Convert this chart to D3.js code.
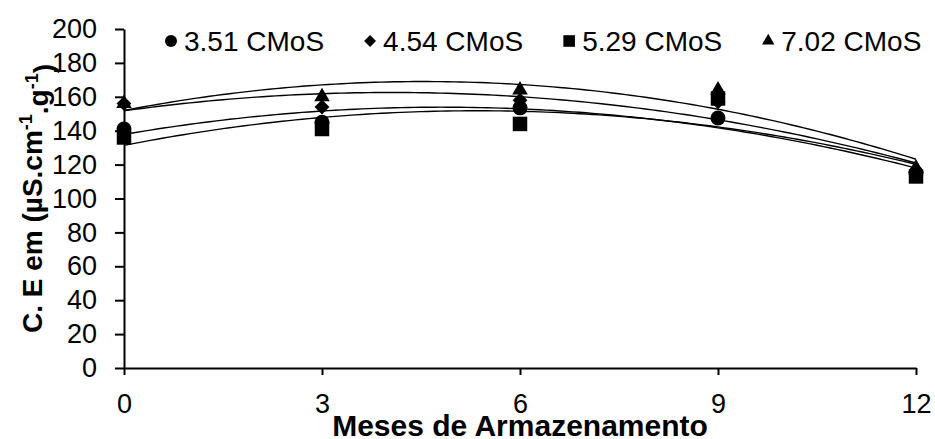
<!DOCTYPE html>
<html>
<head>
<meta charset="utf-8">
<script src="https://cdnjs.cloudflare.com/ajax/libs/d3/7.8.5/d3.min.js"></script>
<style>
    body { margin: 0; background: #fff; }
    text { font-family: Arial, "Liberation Sans", sans-serif; fill: #000; }
</style>
</head>
<body>
<script>
// months of storage
var months = [0, 3, 6, 9, 12];
var seriesNames = ['3.51 CMoS', '4.54 CMoS', '5.29 CMoS', '7.02 CMoS'];
var seriesShapes = ['circle', 'diamond', 'square', 'triangle'];
// electrical conductivity
var ce351 = [141, 145, 153.5, 147.5, 115];
var ce454 = [156, 154, 158, 157, 116];
var ce529 = [136, 141, 144, 159, 113];
var ce702 = [156, 160, 164, 164, 118];
var yTicks = [0, 20, 40, 60, 80, 100, 120, 140, 160, 180, 200];
var xTicks = [0, 3, 6, 9, 12];

var allSeries = [ce351, ce454, ce529, ce702];

var svg = d3.select('body').append('svg')
    .attr('width', 935)
    .attr('height', 439);

var margin = { top: 29, right: 19, bottom: 71, left: 124 },
    width = +svg.attr('width') - margin.left - margin.right,
    height = +svg.attr('height') - margin.top - margin.bottom,
    g = svg.append('g').attr('transform', 'translate(' + margin.left + ',' + margin.top + ')');

var x = d3.scaleLinear().domain([0, 12]).range([0, width]);
var y = d3.scaleLinear().domain([0, 200]).range([height, 0]);

// polynomial (order 2) trendline, least squares like the spreadsheet does
function quadFit(xs, ys) {
    var s = [0, 0, 0, 0, 0], t = [0, 0, 0];
    xs.forEach(function (xv, i) {
        for (var k = 0; k < 5; k++) s[k] += Math.pow(xv, k);
        for (var k2 = 0; k2 < 3; k2++) t[k2] += ys[i] * Math.pow(xv, k2);
    });
    var A = [[s[0], s[1], s[2], t[0]], [s[1], s[2], s[3], t[1]], [s[2], s[3], s[4], t[2]]];
    for (var c = 0; c < 3; c++) {
        for (var r = c + 1; r < 3; r++) {
            var f = A[r][c] / A[c][c];
            for (var j = c; j < 4; j++) A[r][j] -= f * A[c][j];
        }
    }
    var b = [0, 0, 0];
    for (var r2 = 2; r2 >= 0; r2--) {
        var v = A[r2][3];
        for (var j2 = r2 + 1; j2 < 3; j2++) v -= A[r2][j2] * b[j2];
        b[r2] = v / A[r2][r2];
    }
    return function (xv) { return b[0] + b[1] * xv + b[2] * xv * xv; };
}

function symbolPath(shape, big) {
    var k = big ? 1 : 0.8;
    if (shape === 'circle') return d3.symbol(d3.symbolCircle, 177 * k * k)();
    if (shape === 'square') return d3.symbol(d3.symbolSquare, 210 * k * k)();
    if (shape === 'triangle') return d3.symbol(d3.symbolTriangle, 105 * k * k)();
    return d3.symbol(d3.symbolSquare, 110 * k * k)();
}

// axes
g.append('g')
    .attr('class', 'axis')
    .call(d3.axisLeft(y).tickValues(yTicks).tickSizeInner(9).tickSizeOuter(0).tickPadding(18));

g.append('g')
    .attr('class', 'axis')
    .attr('transform', 'translate(0,' + height + ')')
    .call(d3.axisBottom(x).tickValues(xTicks).tickSizeInner(7).tickSizeOuter(0).tickPadding(19));

g.selectAll('.axis path, .axis line')
    .attr('stroke', '#000')
    .attr('stroke-width', 2);
g.selectAll('.axis text')
    .style('font-size', '27px')
    .attr('fill', '#000');

// trendlines
var line = d3.line()
    .x(function (d) { return x(d[0]); })
    .y(function (d) { return y(d[1]); });

var xs = d3.range(0, 12.001, 0.1);
allSeries.forEach(function (s) {
    var fit = quadFit(months, s);
    g.append('path')
        .attr('fill', 'none')
        .attr('stroke', '#000')
        .attr('stroke-width', 1.4)
        .attr('d', line(xs.map(function (v) { return [v, fit(v)]; })));
});

// markers
allSeries.forEach(function (s, i) {
    g.append('g').selectAll('path')
        .data(s)
        .enter().append('path')
        .attr('transform', function (d, j) {
            return 'translate(' + x(months[j]) + ',' + y(d) + ')' +
                (seriesShapes[i] === 'diamond' ? ' rotate(45)' : '');
        })
        .attr('d', symbolPath(seriesShapes[i], true))
        .attr('fill', '#000');
});

// legend
var legend = svg.append('g').attr('transform', 'translate(0,41)');
var lx = 171;
seriesNames.forEach(function (name, i) {
    var item = legend.append('g').attr('transform', 'translate(' + lx + ',0)');
    item.append('path')
        .attr('d', symbolPath(seriesShapes[i], false))
        .attr('transform', seriesShapes[i] === 'diamond' ? 'rotate(45)' : null)
        .attr('fill', '#000');
    var t = item.append('text')
        .attr('x', 13)
        .attr('dy', '0.35em')
        .style('font-size', '28px')
        .text(name);
    lx += 13 + t.node().getComputedTextLength() + 46;
});

// axis titles
svg.append('text')
    .attr('x', margin.left + width / 2)
    .attr('y', 436)
    .style('text-anchor', 'middle')
    .style('font-size', '30px')
    .style('font-weight', 'bold')
    .text('Meses de Armazenamento');

var yTitle = svg.append('text')
    .attr('transform', 'translate(42,' + (margin.top + height / 2) + ') rotate(-90)')
    .style('text-anchor', 'middle')
    .style('font-size', '28px')
    .style('font-weight', 'bold');
yTitle.append('tspan').text('C. E em  (\u00b5S.cm');
yTitle.append('tspan').attr('dy', '-0.55em').style('font-size', '18px').text('-1');
yTitle.append('tspan').attr('dy', '0.55em').text('.g');
yTitle.append('tspan').attr('dy', '-0.55em').style('font-size', '18px').text('-1');
yTitle.append('tspan').attr('dy', '0.55em').text(')');
</script>
</body>
</html>
